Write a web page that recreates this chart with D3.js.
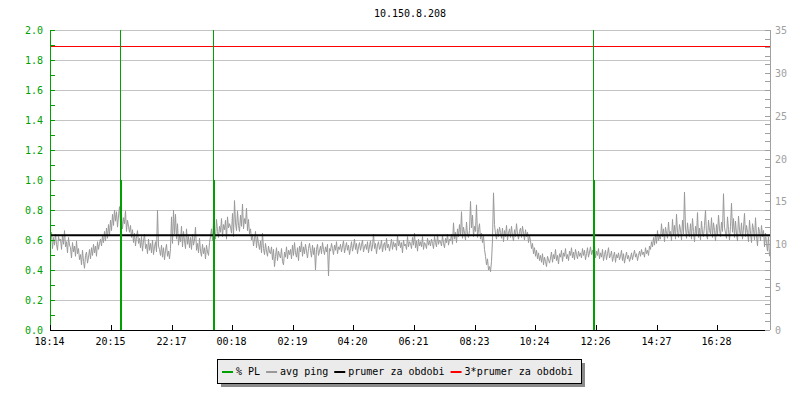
<!DOCTYPE html>
<html>
<head>
<meta charset="utf-8">
<script src="https://cdn.jsdelivr.net/npm/d3@7"></script>
<style>
  html, body { margin: 0; padding: 0; background: #ffffff; }
  svg { display: block; }
  text { font-family: "DejaVu Sans Mono", monospace; font-size: 10px; }
</style>
</head>
<body>
<svg id="chart" width="800" height="400"></svg>
<script>
// ---------------- DATA ----------------
const title = "10.150.8.208";
const startTime = "18:14";          // left edge of the time axis
const spanMinutes = 1440;           // 24 h shown
const sampleStepMinutes = 2;        // spacing of avg ping samples

const timeTickLabels = ["18:14","20:15","22:17","00:18","02:19","04:20","06:21","08:23","10:24","12:26","14:27","16:28"];

const plTickLabels = ["0.0","0.2","0.4","0.6","0.8","1.0","1.2","1.4","1.6","1.8","2.0"];
const pingTickLabels = ["0","5","10","15","20","25","30","35"];

// avg ping (ms), one sample every 2 minutes
const avgPing = [
  10.2,11.4,9.5,10.8,9.9,11.2,10.0,9.3,10.9,10.4,
  10.6,9.4,11.1,10.0,11.6,9.7,10.3,9.0,10.8,9.9,
  9.6,8.4,10.2,9.1,9.8,8.6,10.4,8.9,9.5,8.2,
  8.8,7.6,9.3,8.0,7.2,8.7,9.1,7.8,8.5,9.4,
  8.3,9.6,8.7,10.0,9.0,9.8,8.6,10.3,9.4,10.1,
  10.6,9.8,11.0,10.2,11.5,10.4,11.9,10.7,12.3,11.1,
  12.8,11.6,13.5,12.2,14.0,12.7,13.8,12.0,13.3,14.4,
  12.5,13.6,11.8,13.1,12.4,13.9,11.5,12.8,12.1,11.4,
  12.2,10.8,11.7,10.2,11.3,9.8,10.9,11.6,10.1,10.7,
  9.6,10.9,9.2,10.4,11.2,9.5,10.0,8.9,10.6,9.3,
  10.1,9.0,10.5,8.8,9.7,10.3,9.1,14.0,9.8,9.4,
  8.7,9.9,8.5,9.6,8.2,9.3,10.0,8.6,9.2,8.3,
  9.5,13.2,10.1,14.0,11.2,13.5,10.6,12.4,9.9,11.0,
  10.3,12.1,9.7,11.5,10.4,9.5,11.8,10.0,10.9,9.6,
  10.8,9.4,11.2,9.9,10.5,12.0,9.3,10.1,9.0,10.7,
  9.2,8.6,10.0,8.9,9.6,8.3,9.9,9.1,8.7,10.2,
  10.9,11.8,10.4,12.6,11.2,10.6,12.9,11.5,10.8,12.1,
  11.4,13.0,10.9,12.3,11.7,12.8,10.6,13.2,11.9,12.4,
  12.0,11.3,13.6,10.9,15.1,12.5,11.6,13.9,12.2,11.5,
  13.4,12.1,14.7,11.8,13.0,12.4,14.2,11.6,12.9,11.2,
  11.8,10.5,11.1,9.8,10.6,11.5,9.6,10.9,10.1,9.4,
  10.4,9.0,11.3,9.5,8.8,10.1,9.2,8.6,9.8,9.1,
  8.9,9.7,8.2,9.4,7.4,8.6,9.6,8.1,9.2,8.7,
  8.4,9.5,8.0,7.6,9.1,8.5,9.7,8.3,9.3,8.8,
  9.4,8.3,9.9,8.7,10.2,9.0,8.5,9.6,8.1,9.8,
  9.1,10.3,8.6,9.7,8.9,10.0,9.2,8.4,9.5,10.1,
  9.3,8.5,9.9,8.8,9.6,7.0,9.4,10.0,8.7,9.2,
  9.8,8.9,10.2,9.4,8.8,9.7,9.1,10.0,6.3,9.5,
  9.2,10.1,9.5,8.8,9.9,9.3,10.3,8.9,9.7,9.4,
  10.0,9.1,9.8,10.4,9.0,9.6,10.2,9.3,9.9,8.8,
  9.5,10.3,9.2,9.8,10.6,9.4,10.1,8.9,9.7,10.2,
  9.3,9.9,10.5,9.1,9.7,10.0,9.4,10.3,9.0,9.8,
  10.4,9.2,9.8,11.2,9.5,10.1,8.9,9.9,10.3,9.4,
  9.7,10.5,9.1,9.9,10.2,9.3,10.7,9.6,10.0,9.2,
  9.9,10.6,9.4,10.3,9.7,10.1,9.3,11.0,9.8,10.4,
  9.6,10.2,9.0,10.5,9.8,10.0,9.4,10.9,9.7,10.3,
  10.1,9.5,10.8,9.9,11.3,9.6,10.4,9.2,10.6,9.8,
  10.3,9.7,10.9,9.4,10.2,10.0,9.5,10.7,9.9,10.4,
  9.8,10.6,10.1,9.5,10.9,10.2,9.7,11.1,10.0,10.5,
  10.3,9.8,11.0,10.1,9.6,10.7,10.2,11.2,9.9,10.6,
  10.4,11.2,10.0,12.5,10.6,11.4,10.2,11.8,10.9,12.3,
  11.0,13.8,10.7,12.0,11.3,10.5,12.6,11.1,10.8,11.6,
  15.0,11.9,13.4,10.9,12.1,11.5,14.6,10.8,11.7,12.4,
  10.6,11.3,10.2,11.0,9.4,8.6,7.6,8.3,7.0,7.4,
  6.8,8.0,10.5,16.0,12.3,11.2,10.6,11.8,10.9,12.0,
  11.4,10.7,11.9,10.3,11.6,10.9,12.2,10.5,11.3,11.8,
  10.8,12.1,11.0,10.4,11.7,10.9,12.4,11.2,10.6,11.5,
  11.9,10.8,12.1,11.3,10.5,11.7,10.9,11.4,10.2,11.0,
  10.4,9.5,10.1,8.9,9.6,8.6,9.3,8.3,9.0,8.1,
  8.7,7.9,8.9,7.6,8.5,8.0,7.4,8.6,8.2,7.8,
  8.4,9.1,7.9,8.8,8.3,9.4,8.1,8.7,7.7,8.9,
  8.5,9.3,8.0,9.0,8.6,9.5,8.3,8.8,8.1,9.2,
  8.7,9.6,8.4,9.1,8.2,9.4,8.8,8.3,9.2,8.6,
  9.0,8.4,9.5,8.7,9.3,8.2,8.9,9.6,8.5,9.1,
  9.7,8.8,9.3,8.6,9.9,8.4,9.2,8.7,9.5,8.3,
  9.0,8.5,9.4,8.1,8.8,9.3,8.2,8.9,9.6,8.4,
  8.7,9.2,8.0,8.6,9.1,7.9,8.8,8.4,9.0,8.2,
  8.6,9.3,8.1,8.9,7.8,8.5,9.1,8.3,8.7,8.0,
  8.4,9.0,8.2,8.8,9.3,8.5,8.9,8.1,8.7,9.2,
  8.6,9.4,8.8,9.1,8.5,9.6,8.9,9.3,8.7,9.8,
  9.4,10.3,9.7,10.8,9.9,11.2,10.1,11.6,10.4,11.0,
  10.6,12.4,10.9,11.8,10.3,12.0,11.3,10.7,12.6,11.1,
  11.5,10.4,12.9,11.0,12.2,10.6,13.5,11.4,10.8,12.3,
  11.7,10.5,12.8,11.2,16.1,11.9,10.7,12.5,11.3,10.9,
  12.4,10.6,13.0,11.5,10.3,12.1,11.0,13.7,10.8,11.9,
  10.5,12.7,11.3,10.9,12.2,14.0,11.1,10.6,12.8,11.6,
  11.2,13.1,10.8,12.5,11.6,10.4,12.3,11.0,13.4,11.8,
  10.9,12.6,11.5,15.9,12.0,11.3,10.7,13.2,11.7,10.5,
  12.1,14.8,11.4,13.0,10.8,12.7,11.2,10.4,13.3,11.6,
  11.0,12.5,10.6,11.9,13.6,10.9,12.2,11.4,10.3,12.8,
  11.3,10.2,12.4,11.7,10.5,13.1,11.0,9.8,12.0,11.5,
  10.4,12.2,10.9,11.6,9.7,11.3,10.1,9.2,11.0,8.6
];

const periodMean = 11.05;           // "prumer za obdobi" (ms)
const meanFactor = 3;               // "3*prumer za obdobi"

// packet loss events (% PL)
const plTimes  = ["20:34","23:40","12:20"];
const plValues = [1.0, 1.0, 1.0];

const legendLabels = ["% PL","avg ping","prumer za obdobi","3*prumer za obdobi"];
const colors = { pl: "#00a000", ping: "#999999", mean: "#000000", mean3: "#ff0000", grid: "#c4c4c4", rightAxis: "#a0a0a0" };

// ---------------- CHART ----------------
const svg = d3.select("#chart");
const M = { left: 50, right: 770, top: 30, bottom: 330 };

function toMin(s) {
  const [h, m] = s.split(":").map(Number);
  const [h0, m0] = startTime.split(":").map(Number);
  return ((h * 60 + m) - (h0 * 60 + m0) + 1440) % 1440;
}

const x = d3.scaleLinear().domain([0, spanMinutes]).range([M.left, M.right]);
const yPL = d3.scaleLinear().domain([0, 2]).range([M.bottom, M.top]);
const yPing = d3.scaleLinear().domain([0, 35]).range([M.bottom, M.top]);

// gridlines
svg.append("g").selectAll("line").data(plTickLabels.map(Number)).join("line")
  .attr("x1", M.left).attr("x2", M.right)
  .attr("y1", d => Math.round(yPL(d)) + 0.5).attr("y2", d => Math.round(yPL(d)) + 0.5)
  .attr("stroke", colors.grid).attr("stroke-width", 1);

// avg ping
const pingLine = d3.line()
  .x((d, i) => x(i * sampleStepMinutes) + 0.5)
  .y(d => yPing(d));
svg.append("path").datum(avgPing)
  .attr("d", pingLine)
  .attr("fill", "none").attr("stroke", colors.ping).attr("stroke-width", 1);

// mean & 3*mean
svg.append("line")
  .attr("x1", M.left).attr("x2", M.right)
  .attr("y1", yPing(periodMean)).attr("y2", yPing(periodMean))
  .attr("stroke", colors.mean).attr("stroke-width", 2);
svg.append("line")
  .attr("x1", M.left).attr("x2", M.right)
  .attr("y1", Math.round(yPing(periodMean * meanFactor)) + 0.5).attr("y2", Math.round(yPing(periodMean * meanFactor)) + 0.5)
  .attr("stroke", colors.mean3).attr("stroke-width", 1);

// packet loss
const plG = svg.append("g");
plTimes.forEach((t, i) => {
  const px = Math.round(x(toMin(t)));
  plG.append("line")
    .attr("x1", px + 0.5).attr("x2", px + 0.5)
    .attr("y1", M.top).attr("y2", M.bottom)
    .attr("stroke", colors.pl).attr("stroke-width", 1);
  plG.append("line")
    .attr("x1", px + 1).attr("x2", px + 1)
    .attr("y1", yPL(plValues[i])).attr("y2", M.bottom)
    .attr("stroke", colors.pl).attr("stroke-width", 2);
});

// left axis (PL)
const leftG = svg.append("g");
leftG.append("line").attr("x1", M.left + 0.5).attr("x2", M.left + 0.5)
  .attr("y1", M.top).attr("y2", M.bottom).attr("stroke", colors.pl);
d3.range(0, 2.0001, 0.1).forEach(v => {
  const yy = Math.round(yPL(v)) + 0.5;
  leftG.append("line").attr("x1", M.left).attr("x2", M.left + 5)
    .attr("y1", yy).attr("y2", yy).attr("stroke", colors.pl);
});
leftG.selectAll("text").data(plTickLabels).join("text")
  .attr("x", M.left - 7).attr("y", d => yPL(+d) + 4)
  .attr("text-anchor", "end").attr("fill", colors.pl).text(d => d);

// right axis (ping)
const rightG = svg.append("g");
rightG.append("line").attr("x1", M.right + 0.5).attr("x2", M.right + 0.5)
  .attr("y1", M.top).attr("y2", M.bottom).attr("stroke", colors.rightAxis);
d3.range(0, 36, 1).forEach(v => {
  const yy = Math.round(yPing(v)) + 0.5;
  rightG.append("line").attr("x1", M.right - 5).attr("x2", M.right)
    .attr("y1", yy).attr("y2", yy).attr("stroke", colors.rightAxis);
});
rightG.selectAll("text").data(pingTickLabels).join("text")
  .attr("x", M.right + 5).attr("y", d => yPing(+d) + 4)
  .attr("text-anchor", "start").attr("fill", colors.rightAxis).text(d => d);

// bottom axis
const botG = svg.append("g");
botG.append("line").attr("x1", M.left).attr("x2", M.right - 5)
  .attr("y1", M.bottom + 0.5).attr("y2", M.bottom + 0.5).attr("stroke", "#000");
timeTickLabels.forEach(lbl => {
  const px = Math.round(x(toMin(lbl))) + 0.5;
  botG.append("line").attr("x1", px).attr("x2", px)
    .attr("y1", M.bottom - 5).attr("y2", M.bottom).attr("stroke", "#000");
  botG.append("text").attr("x", px - 1).attr("y", M.bottom + 15)
    .attr("text-anchor", "middle").attr("fill", "#000").text(lbl);
});

// title
svg.append("text").attr("x", (M.left + M.right) / 2).attr("y", 17)
  .attr("text-anchor", "middle").attr("fill", "#000").text(title);

// legend
const lg = svg.append("g");
const lx = 217, ly = 359, lw = 364, lh = 24;
lg.append("rect").attr("x", lx + 4).attr("y", ly + 4).attr("width", lw).attr("height", lh).attr("fill", "#8a8a8a");
lg.append("rect").attr("x", lx + 0.5).attr("y", ly + 0.5).attr("width", lw).attr("height", lh)
  .attr("fill", "#ebebeb").attr("stroke", "#000");
const legendColors = [colors.pl, colors.ping, colors.mean, colors.mean3];
let cx = lx + 5;
legendLabels.forEach((lbl, i) => {
  lg.append("line").attr("x1", cx).attr("x2", cx + 11).attr("y1", ly + 13).attr("y2", ly + 13)
    .attr("stroke", legendColors[i]).attr("stroke-width", 2);
  const t = lg.append("text").attr("x", cx + 14).attr("y", ly + 16).attr("fill", "#000").text(lbl);
  cx += 14 + t.node().getComputedTextLength() + 6;
});
</script>
</body>
</html>
